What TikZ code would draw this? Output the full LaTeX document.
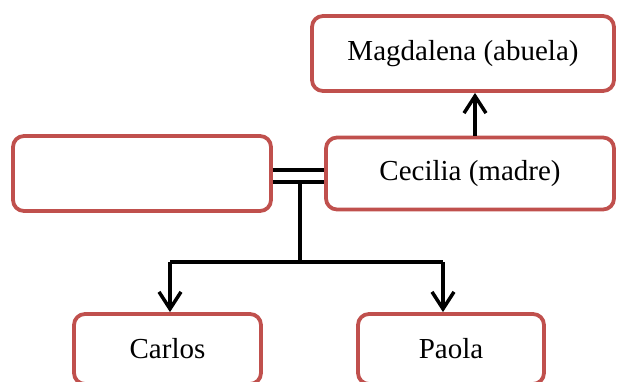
\documentclass[tikz,border=0pt]{standalone}
\usepackage{fontspec}
\setmainfont{Liberation Serif}
\usetikzlibrary{arrows.meta}
\definecolor{boxred}{HTML}{C0504D}
\begin{document}
\begin{tikzpicture}[x=1pt,y=-1pt,
  person/.style={draw=boxred, line width=3.8pt, rounded corners=11pt, fill=white,
    inner sep=0pt, font=\fontsize{29}{33}\selectfont},
  link/.style={line width=3.5pt, black},
  arr/.style={link, -{Straight Barb[length=17pt,width=22pt,line width=3.5pt]}}]
\useasboundingbox (0,0) rectangle (618,382);
\clip (0,0) rectangle (618,382);
\node[person, minimum width=302pt, minimum height=75pt] (M) at (463,53.5) {Magdalena (abuela)};
\node[person, minimum width=288pt, minimum height=72pt] (C) at (470,173.5) {Cecilia (madre)};
\node[person, minimum width=258pt, minimum height=75pt] (L) at (142,173.5) {};
\node[person, minimum width=187pt, minimum height=70pt] (Ca) at (167.5,349) {Carlos};
\node[person, minimum width=186pt, minimum height=70pt] (Pa) at (451,349) {Paola};
% marriage double line
\draw[link] ([yshift=3.5pt]L.east) -- ([yshift=3.5pt]C.west);
\draw[link] ([yshift=-8.5pt]L.east) -- ([yshift=-8.5pt]C.west);
\coordinate (m) at (300,182);
\coordinate (j) at (300,262);
\coordinate (cl) at (170,262);
\coordinate (pr) at (443,262);
\draw[link] (m) -- (j);
\draw[link] (cl) -- (pr);
\draw[arr] (cl) -- (cl |- Ca.north);
\draw[arr] (pr) -- (pr |- Pa.north);
\draw[arr] ([xshift=5pt]C.north) -- ([xshift=5pt]C.north |- M.south);
\end{tikzpicture}
\end{document}
